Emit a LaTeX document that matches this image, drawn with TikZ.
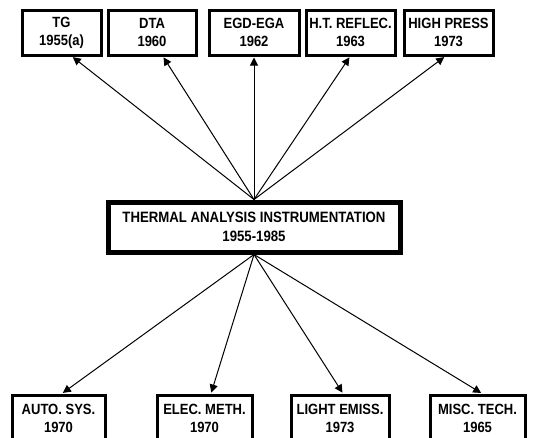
\documentclass[tikz,border=0pt]{standalone}
\usepackage{fontspec}
\setmainfont{Liberation Sans}
\newfontfamily\labfont[FakeStretch=0.88,UprightFont={* Bold}]{Liberation Sans}
\usetikzlibrary{arrows.meta}
\begin{document}
\begin{tikzpicture}[x=1pt,y=-1pt,
  box/.style={draw,line width=3pt,inner sep=0pt,align=center,
    font=\labfont\fontsize{14.8}{18}\selectfont},
  topbox/.style={box,minimum height=45pt},
  botbox/.style={box,minimum height=46pt},
  mainbox/.style={draw,line width=5pt,inner sep=0pt,align=center,
    minimum width=292pt,minimum height=50pt,
    font=\labfont\fontsize{15}{19}\selectfont},
  arr/.style={line width=1pt,-{Triangle[length=8pt,width=8pt]},shorten >=1pt}]
\useasboundingbox (0,0) rectangle (534,437);
\clip (0,0) rectangle (534,437);
% top boxes
\node[topbox,minimum width=79pt] (tg)  at (61.5,32.5)  {TG\\1955(a)};
\node[topbox,minimum width=88pt] (dta) at (152,32.5)   {DTA\\1960};
\node[topbox,minimum width=90pt] (egd) at (254,32.5)   {EGD-EGA\\1962};
\node[topbox,minimum width=89pt] (ht)  at (350.5,32.5) {H.T. REFLEC.\\1963};
\node[topbox,minimum width=89pt] (hp)  at (448.5,32.5) {HIGH PRESS\\1973};
% central box
\node[mainbox] (c) at (254,227) {THERMAL ANALYSIS INSTRUMENTATION\\1955-1985};
% bottom boxes
\node[botbox,minimum width=93pt] (auto)  at (58.5,418)  {AUTO. SYS.\\1970};
\node[botbox,minimum width=95pt] (elec)  at (204.5,418) {ELEC. METH.\\1970};
\node[botbox,minimum width=98pt] (light) at (340,418)   {LIGHT EMISS.\\1973};
\node[botbox,minimum width=95pt] (misc)  at (477.5,418) {MISC. TECH.\\1965};
% connectors
\draw[arr] (c.north) -- ([xshift=10.5pt]tg.south);
\draw[arr] (c.north) -- ([xshift=11pt]dta.south);
\draw[arr] (c.north) -- (egd.south);
\draw[arr] (c.north) -- ([xshift=-0.5pt]ht.south);
\draw[arr] (c.north) -- ([xshift=-3.5pt]hp.south);
\draw[arr] (c.south) -- ([xshift=3.5pt]auto.north);
\draw[arr] (c.south) -- ([xshift=6.5pt]elec.north);
\draw[arr] (c.south) -- ([xshift=3pt]light.north);
\draw[arr] (c.south) -- ([xshift=4.5pt]misc.north);
\end{tikzpicture}
\end{document}
